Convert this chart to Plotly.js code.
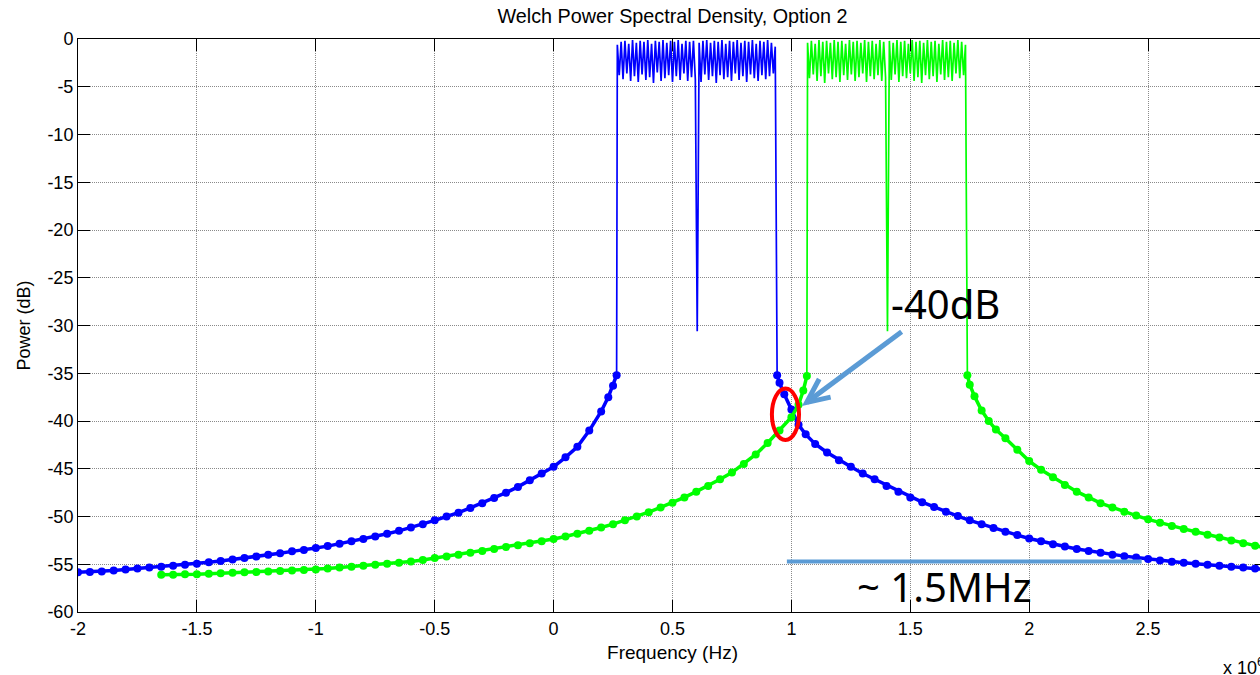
<!DOCTYPE html>
<html>
<head>
<meta charset="utf-8">
<script src="https://cdn.plot.ly/plotly-3.0.1.min.js"></script>
<style>
  html, body { margin: 0; padding: 0; width: 1260px; height: 675px; overflow: hidden; background: #fff; }
  #chart { width: 1290px; height: 675px; }
</style>
</head>
<body>
<div id="chart"></div>
<script>
// ---- Data (frequency in MHz, i.e. x 10^6 Hz; power in dB) ----
// Blue signal: left skirt, passband, right skirt
const blueLeftF = [-2,-1.95,-1.9,-1.85,-1.8,-1.75,-1.7,-1.65,-1.6,-1.55,-1.5,-1.45,-1.4,-1.35,-1.3,-1.25,-1.2,-1.15,-1.1,-1.05,-1,-0.95,-0.9,-0.85,-0.8,-0.75,-0.7,-0.65,-0.6,-0.55,-0.5,-0.45,-0.4,-0.35,-0.3,-0.25,-0.2,-0.15,-0.1,-0.05,0,0.05,0.1,0.15,0.2,0.23,0.25,0.265];
const blueLeftP = [-55.85,-55.8,-55.75,-55.65,-55.55,-55.45,-55.35,-55.25,-55.15,-55.05,-54.95,-54.8,-54.65,-54.5,-54.35,-54.2,-54.0,-53.85,-53.65,-53.5,-53.3,-53.1,-52.85,-52.6,-52.35,-52.1,-51.8,-51.5,-51.15,-50.8,-50.4,-50.0,-49.6,-49.1,-48.6,-48.05,-47.5,-46.9,-46.2,-45.5,-44.8,-43.8,-42.7,-41.0,-39.0,-37.5,-36.3,-35.2];

const blueBandF = [0.268,0.276,0.284,0.292,0.300,0.308,0.316,0.324,0.332,0.340,0.348,0.356,0.364,0.372,0.380,0.388,0.396,0.404,0.412,0.420,0.428,0.436,0.444,0.452,0.460,0.468,0.476,0.484,0.492,0.500,0.508,0.516,0.524,0.532,0.540,0.548,0.556,0.564,0.572,0.580,0.588,0.596,0.604,0.612,0.620,0.628,0.636,0.644,0.652,0.660,0.668,0.676,0.684,0.692,0.700,0.708,0.716,0.724,0.732,0.740,0.748,0.756,0.764,0.772,0.780,0.788,0.796,0.804,0.812,0.820,0.828,0.836,0.844,0.852,0.860,0.868,0.876,0.884,0.892,0.900,0.908,0.916,0.924,0.932];
const blueBandP = [-0.6,-3.8,-0.3,-4.2,-0.2,-3.6,-0.5,-4.4,-0.1,-3.9,
                   -0.4,-4.5,-0.2,-3.7,-0.3,-4.3,-0.1,-4.0,-0.5,-4.6,
                   -0.2,-3.5,-0.3,-4.4,-0.1,-4.1,-0.4,-3.8,-0.2,-4.5,
                   -0.3,-3.9,-0.1,-4.3,-0.5,-3.6,-0.2,-4.4,-0.3,-4.0,
                   -0.2,-4.2,-30.6,-0.4,-4.5,-0.2,-3.7,-0.1,-4.3,-0.4,
                   -3.9,-0.2,-4.6,-0.3,-3.8,-0.1,-4.2,-0.5,-4.0,-0.2,
                   -4.4,-0.3,-3.6,-0.1,-4.3,-0.4,-3.9,-0.2,-4.5,-0.3,
                   -3.7,-0.1,-4.1,-0.5,-4.4,-0.2,-3.8,-0.3,-4.2,-0.1,
                   -3.9,-0.4,-3.6,-0.8];

const blueRightF = [0.94,0.95,0.97,1.0,1.03,1.06,1.1,1.15,1.2,1.25,1.3,1.35,1.4,1.45,1.5,1.55,1.6,1.65,1.7,1.75,1.8,1.85,1.9,1.95,2.0,2.05,2.1,2.15,2.2,2.25,2.3,2.35,2.4,2.45,2.5,2.55,2.6,2.65,2.7,2.75,2.8,2.85,2.9,2.95,3.0];
const blueRightP = [-35.2,-36.0,-37.2,-38.8,-40.4,-41.4,-42.4,-43.3,-44.1,-44.8,-45.5,-46.1,-46.8,-47.4,-48.0,-48.5,-49.0,-49.5,-49.95,-50.4,-50.8,-51.2,-51.6,-51.95,-52.3,-52.6,-52.9,-53.15,-53.4,-53.6,-53.8,-54.0,-54.15,-54.3,-54.45,-54.6,-54.75,-54.85,-54.95,-55.05,-55.15,-55.25,-55.35,-55.45,-55.55];

// Green signal: left skirt, passband, right skirt
const greenLeftF = [-1.65,-1.6,-1.55,-1.5,-1.45,-1.4,-1.35,-1.3,-1.25,-1.2,-1.15,-1.1,-1.05,-1,-0.95,-0.9,-0.85,-0.8,-0.75,-0.7,-0.65,-0.6,-0.55,-0.5,-0.45,-0.4,-0.35,-0.3,-0.25,-0.2,-0.15,-0.1,-0.05,0,0.05,0.1,0.15,0.2,0.25,0.3,0.35,0.4,0.45,0.5,0.55,0.6,0.65,0.7,0.75,0.8,0.85,0.9,0.95,1.0,1.03,1.05,1.065];
const greenLeftP = [-56.1,-56.1,-56.05,-56.05,-56.0,-55.95,-55.9,-55.85,-55.8,-55.75,-55.7,-55.65,-55.6,-55.55,-55.45,-55.35,-55.25,-55.15,-55.05,-54.95,-54.85,-54.7,-54.55,-54.35,-54.2,-54.0,-53.8,-53.6,-53.4,-53.2,-53.0,-52.8,-52.6,-52.35,-52.1,-51.8,-51.5,-51.15,-50.8,-50.4,-50.0,-49.55,-49.05,-48.55,-48.0,-47.4,-46.8,-46.1,-45.4,-44.5,-43.5,-42.3,-41.0,-39.6,-38.3,-36.8,-35.3];

const greenBandF = [1.068,1.076,1.084,1.092,1.100,1.108,1.116,1.124,1.132,1.140,1.148,1.156,1.164,1.172,1.180,1.188,1.196,1.204,1.212,1.220,1.228,1.236,1.244,1.252,1.260,1.268,1.276,1.284,1.292,1.300,1.308,1.316,1.324,1.332,1.340,1.348,1.356,1.364,1.372,1.380,1.388,1.396,1.404,1.412,1.420,1.428,1.436,1.444,1.452,1.460,1.468,1.476,1.484,1.492,1.500,1.508,1.516,1.524,1.532,1.540,1.548,1.556,1.564,1.572,1.580,1.588,1.596,1.604,1.612,1.620,1.628,1.636,1.644,1.652,1.660,1.668,1.676,1.684,1.692,1.700,1.708,1.716,1.724,1.732];
const greenBandP = [-0.4,-4.1,-0.2,-3.7,-0.5,-4.4,-0.1,-3.9,-0.3,-4.6,
                    -0.2,-3.6,-0.4,-4.2,-0.1,-4.0,-0.3,-4.5,-0.2,-3.8,
                    -0.5,-4.3,-0.1,-3.7,-0.3,-4.4,-0.2,-4.0,-0.4,-3.6,
                    -0.1,-4.5,-0.3,-3.9,-0.2,-4.2,-0.5,-3.8,-0.1,-4.4,
                    -0.3,-4.0,-30.6,-0.2,-4.3,-0.4,-3.7,-0.1,-4.5,-0.3,
                    -3.9,-0.2,-4.1,-0.5,-3.6,-0.1,-4.4,-0.3,-4.0,-0.2,
                    -4.6,-0.4,-3.8,-0.1,-4.2,-0.3,-3.9,-0.2,-4.5,-0.5,
                    -3.7,-0.1,-4.3,-0.3,-4.0,-0.2,-4.4,-0.4,-3.6,-0.1,
                    -4.1,-0.3,-3.8,-0.6];

const greenRightF = [1.74,1.75,1.77,1.8,1.83,1.86,1.9,1.95,2.0,2.05,2.1,2.15,2.2,2.25,2.3,2.35,2.4,2.45,2.5,2.55,2.6,2.65,2.7,2.75,2.8,2.85,2.9,2.95,3.0];
const greenRightP = [-35.2,-36.2,-37.4,-38.9,-40.0,-40.9,-41.8,-43.0,-44.2,-45.1,-45.9,-46.7,-47.4,-48.0,-48.6,-49.05,-49.5,-49.9,-50.3,-50.65,-51.0,-51.3,-51.6,-51.9,-52.2,-52.5,-52.8,-53.05,-53.3];

// Axis ticks (the "3" tick sits on the cropped right edge and has no visible label)
const xTickVals = [-2,-1.5,-1,-0.5,0,0.5,1,1.5,2,2.5];
const xTickText = ['-2','-1.5','-1','-0.5','0','0.5','1','1.5','2','2.5'];
const yTickVals = [0,-5,-10,-15,-20,-25,-30,-35,-40,-45,-50,-55,-60];
const yTickText = ['0','-5','-10','-15','-20','-25','-30','-35','-40','-45','-50','-55','-60'];

// ---- Traces ----
const BLUE = '#0000FF', GREEN = '#00FF00';
function skirt(f, p, color) {
  return { x: f, y: p, type: 'scatter', mode: 'lines+markers',
    line: { color: color, width: 3.5 }, marker: { color: color, size: 8, symbol: 'circle' },
    hoverinfo: 'skip', showlegend: false };
}
function band(fL, pL, fB, pB, fR, pR, color) {
  return { x: [fL[fL.length - 1]].concat(fB, [fR[0]]), y: [pL[pL.length - 1]].concat(pB, [pR[0]]),
    type: 'scatter', mode: 'lines', line: { color: color, width: 1.7 },
    hoverinfo: 'skip', showlegend: false };
}
const traces = [
  skirt(blueLeftF, blueLeftP, BLUE),
  band(blueLeftF, blueLeftP, blueBandF, blueBandP, blueRightF, blueRightP, BLUE),
  skirt(blueRightF, blueRightP, BLUE),
  skirt(greenLeftF, greenLeftP, GREEN),
  band(greenLeftF, greenLeftP, greenBandF, greenBandP, greenRightF, greenRightP, GREEN),
  skirt(greenRightF, greenRightP, GREEN)
];

const FONT = 'Liberation Sans, Arial, Helvetica, sans-serif';
const ANN_FONT = 'Noto Sans, Open Sans, sans-serif';
const ARROW = '#5B9BD5';

const axisCommon = {
  showline: true, linecolor: '#000', linewidth: 1, mirror: 'ticks',
  ticks: 'inside', ticklen: 12, tickwidth: 1, tickcolor: '#000',
  showgrid: true, gridcolor: '#8a8a8a', griddash: '1px,1px', gridwidth: 1,
  zeroline: false, tickmode: 'array',
  tickfont: { family: FONT, size: 18, color: '#000' }
};

const layout = {
  width: 1290, height: 675,
  margin: { l: 78, r: 23, t: 39, b: 63 },
  paper_bgcolor: '#fff', plot_bgcolor: '#fff',
  showlegend: false,
  title: { text: 'Welch Power Spectral Density, Option 2', font: { family: FONT, size: 19.8, color: '#000' },
           x: 0.5, xref: 'paper', y: 1 - 16 / 675, yref: 'container', yanchor: 'middle' },
  xaxis: Object.assign({}, axisCommon, {
    range: [-2, 3], tickvals: xTickVals, ticktext: xTickText,
    title: { text: 'Frequency (Hz)', font: { family: FONT, size: 19, color: '#000' }, standoff: 8 }
  }),
  yaxis: Object.assign({}, axisCommon, {
    range: [-60, 0], tickvals: yTickVals, ticktext: yTickText,
    title: { text: 'Power (dB)', font: { family: FONT, size: 18, color: '#000' }, standoff: 12 }
  }),
  shapes: [
    // red ellipse around the crossing point
    { type: 'circle', xref: 'x', yref: 'y', x0: 0.918, x1: 1.032, y0: -42.0, y1: -36.6,
      line: { color: '#FF0000', width: 4 }, layer: 'above' },
    // arrow shaft
    { type: 'line', xref: 'x', yref: 'y', x0: 1.4636, y0: -30.66, x1: 1.0644, y1: -38.05,
      line: { color: ARROW, width: 5 }, layer: 'above' },
    // arrow head (open chevron)
    { type: 'path', xref: 'x', yref: 'y', path: 'M 1.117,-35.6 L 1.0644,-38.05 L 1.165,-37.5',
      line: { color: ARROW, width: 5 }, layer: 'above' },
    // ~1.5 MHz span bar
    { type: 'line', xref: 'x', yref: 'y', x0: 0.981, x1: 2.473, y0: -54.7, y1: -54.7,
      line: { color: ARROW, width: 4 }, layer: 'above' }
  ],
  annotations: [
    { text: '-40dB', xref: 'x', yref: 'y', x: 1.646, y: -27.7, showarrow: false,
      font: { family: ANN_FONT, size: 40, color: '#000' }, xanchor: 'center', yanchor: 'middle' },
    { text: '~ 1.5MHz', xref: 'x', yref: 'y', x: 1.642, y: -57.3, showarrow: false,
      font: { family: ANN_FONT, size: 40, color: '#000' }, xanchor: 'center', yanchor: 'middle' },
    { text: 'x 10<sup>6</sup>', xref: 'paper', yref: 'paper', x: (1221 - 78) / 1189, y: -(666 - 612) / 573,
      showarrow: false, xanchor: 'left', yanchor: 'middle',
      font: { family: FONT, size: 18, color: '#000' } }
  ]
};

Plotly.newPlot('chart', traces, layout, { staticPlot: true, displayModeBar: false });
</script>
</body>
</html>
